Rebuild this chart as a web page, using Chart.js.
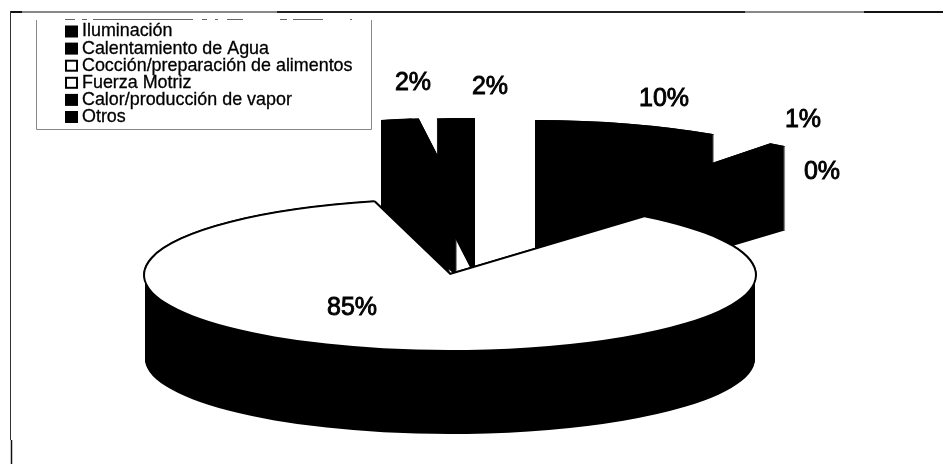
<!DOCTYPE html>
<html lang="es">
<head>
<meta charset="utf-8">
<title>Consumo por uso</title>
<script src="https://cdn.jsdelivr.net/npm/chart.js@4"></script>
<style>
  html, body { margin: 0; padding: 0; background: #fff; }
  canvas { display: block; }
</style>
</head>
<body>
<canvas id="chart" width="943" height="464"></canvas>
<script>
const categories = ['Iluminación', 'Calentamiento de Agua', 'Cocción/preparación de alimentos', 'Fuerza Motriz', 'Calor/producción de vapor', 'Otros'];
const shares = [10, 1, 0, 85, 2, 2];
const sliceColors = ['#000', '#000', '#fff', '#fff', '#000', '#000'];

// how far each slice is pulled off the disc, in px
const pullOut = [[85, -80], [141, -71], [0, 0], [0, 0], [7, -82], [25, -82]];
// value label centres, same order as the categories
const labelSpots = [[664, 99], [803, 120], [822, 172], [352, 308], [413, 83], [490, 87]];

const TILT = 0.246;
const DEPTH = 84;
const MAIN = 3;
const CALOR = 4;

// paint one arc squashed into an ellipse, shifted by (dx, dy)
function paintArc(ctx, arc, color, dx, dy) {
    const saved = arc.options;
    arc.options = Object.create(saved, {
        backgroundColor: { value: color },
        borderWidth: { value: 0 }
    });
    ctx.save();
    ctx.translate(arc.x + dx, arc.y + dy);
    ctx.scale(1, TILT);
    ctx.translate(-arc.x, -arc.y);
    arc.draw(ctx);
    ctx.restore();
    arc.options = saved;
}

function hLine(ctx, x1, x2, y, color, width) {
    ctx.strokeStyle = color;
    ctx.lineWidth = width || 1;
    ctx.beginPath();
    ctx.moveTo(x1, y);
    ctx.lineTo(x2, y);
    ctx.stroke();
}

const pie3d = {
    id: 'pie3d',
    beforeDatasetsDraw(chart) {
        const ctx = chart.ctx;
        const arcs = chart.getDatasetMeta(0).data;

        // pulled-out slices sit behind the disc
        arcs.forEach((arc, i) => {
            if (i === MAIN) return;
            const [dx, dy] = pullOut[i];
            for (let k = DEPTH; k >= 0; k--) paintArc(ctx, arc, '#000', dx, dy + k);
            paintArc(ctx, arc, sliceColors[i], dx, dy);
        });

        // wall of the Calor slice runs down to the disc edge
        const [, calorY] = pullOut[CALOR];
        ctx.save();
        ctx.beginPath();
        ctx.rect(381, 0, 100, 464);
        ctx.clip();
        for (let k = DEPTH; k >= 0; k--) paintArc(ctx, arcs[CALOR], '#000', 0, calorY + k);
        ctx.restore();

        const disc = arcs[MAIN];
        for (let k = DEPTH; k >= 0; k--) paintArc(ctx, disc, '#000', 0, k);
        [[-2, 0], [2, 0], [0, -2], [0, 2], [-1.5, -1.5], [1.5, -1.5]].forEach(([ox, oy]) => paintArc(ctx, disc, '#000', ox, oy));
        paintArc(ctx, disc, sliceColors[MAIN], 0, 0);
        return false;
    },
    afterDraw(chart) {
        const ctx = chart.ctx;
        ctx.save();

        // page frame, only top and left survive
        hLine(ctx, 10, 22, 12, '#111', 2);
        hLine(ctx, 22, 277, 12, '#888', 2);
        hLine(ctx, 277, 745, 12, '#222', 2);
        hLine(ctx, 745, 864, 12, '#888', 2);
        hLine(ctx, 864, 943, 12, '#111', 2);
        ctx.strokeStyle = '#333';
        ctx.lineWidth = 1;
        ctx.beginPath();
        ctx.moveTo(10.5, 11);
        ctx.lineTo(10.5, 440);
        ctx.stroke();
        ctx.strokeStyle = '#111';
        ctx.lineWidth = 1.5;
        ctx.beginPath();
        ctx.moveTo(11.5, 440);
        ctx.lineTo(11.5, 464);
        ctx.stroke();

        // legend box, its top edge is broken up
        ctx.strokeStyle = '#888';
        ctx.lineWidth = 1;
        ctx.beginPath();
        ctx.moveTo(36.5, 20);
        ctx.lineTo(36.5, 129.5);
        ctx.lineTo(371.5, 129.5);
        ctx.lineTo(371.5, 20);
        ctx.stroke();
        [[65, 75], [82, 87], [93, 193], [202, 207], [215, 218], [227, 243], [280, 287], [293, 323], [350, 352]].forEach(([a, b]) => hLine(ctx, a, b, 19.5, '#666'));

        ctx.textBaseline = 'middle';
        ctx.textAlign = 'left';
        ctx.font = '17.9px "Liberation Sans", Arial, sans-serif';
        categories.forEach((name, i) => {
            const y = 31.5 + i * 17.1;
            if (sliceColors[i] === '#000') {
                ctx.fillStyle = '#000';
                ctx.fillRect(65, y - 6, 13, 12);
            } else {
                ctx.strokeStyle = '#000';
                ctx.lineWidth = 2;
                ctx.strokeRect(66, y - 5, 11, 10);
            }
            ctx.fillStyle = '#000';
            ctx.strokeStyle = '#000';
            ctx.lineWidth = 0.3;
            ctx.fillText(name, 82, y);
            ctx.strokeText(name, 82, y);
        });

        // value labels
        ctx.textAlign = 'center';
        ctx.font = '25px "Liberation Sans", Arial, sans-serif';
        ctx.lineWidth = 0.9;
        shares.forEach((v, i) => {
            const [x, y] = labelSpots[i];
            ctx.fillText(v + '%', x, y);
            ctx.strokeText(v + '%', x, y);
        });
        ctx.restore();
    }
};

new Chart(document.getElementById('chart'), {
    type: 'pie',
    data: {
        labels: categories,
        datasets: [{ data: shares, backgroundColor: sliceColors, borderWidth: 0, radius: 305 }]
    },
    options: {
        responsive: false,
        animation: false,
        layout: { padding: { left: 0, right: 43, top: 86, bottom: 0 } },
        plugins: { legend: { display: false }, tooltip: { enabled: false } }
    },
    plugins: [pie3d]
});
</script>
</body>
</html>
